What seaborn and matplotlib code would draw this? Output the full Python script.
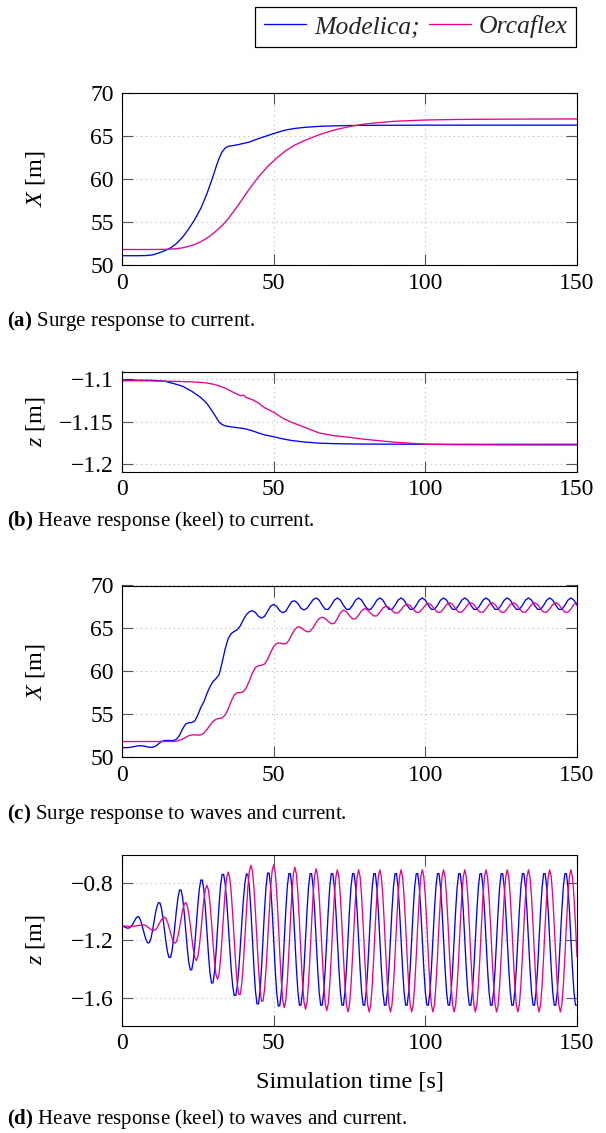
import numpy as np
import matplotlib
matplotlib.use("Agg")
import matplotlib.pyplot as plt
import seaborn as sns

# ------------------------------------------------------------------ data
series_names = ["Modelica;", "Orcaflex"]
x_ticks = [0, 50, 100, 150]

# (a) surge response to current
t_a = [0, 5, 8, 10, 12, 14, 16, 18, 20, 22, 24, 26, 28, 30, 31, 32, 33, 34, 35, 38,
       42, 45, 48, 51, 54, 57, 60, 65, 70, 75, 80, 90, 100, 110, 120, 135, 150]
surge_cur_modelica = [51.08, 51.08, 51.1, 51.17, 51.38, 51.65, 51.98, 52.5, 53.25, 54.2,
                      55.3, 56.6, 58.3, 60.3, 61.4, 62.4, 63.15, 63.6, 63.8, 63.97,
                      64.3, 64.7, 65.05, 65.4, 65.7, 65.88, 66.0, 66.12, 66.18, 66.22,
                      66.24, 66.25, 66.26, 66.26, 66.26, 66.26, 66.26]
surge_cur_orcaflex = [51.8, 51.8, 51.8, 51.8, 51.81, 51.82, 51.85, 51.9, 52.0, 52.17,
                      52.4, 52.72, 53.12, 53.65, 53.95, 54.27, 54.6, 54.98, 55.38, 56.8,
                      58.85, 60.25, 61.45, 62.45, 63.3, 63.95, 64.45, 65.15, 65.7, 66.1,
                      66.4, 66.72, 66.86, 66.92, 66.95, 66.97, 66.98]

# (b) heave response (keel) to current
t_b = [0, 2, 5, 10, 14, 17, 20, 23, 26, 28, 30, 32, 33, 34, 36, 38, 39, 40, 41, 43,
       45, 47, 50, 53, 56, 60, 65, 70, 75, 80, 90, 100, 110, 125, 150]
heave_cur_modelica = [-1.1015, -1.1003, -1.1008, -1.101, -1.102, -1.1048, -1.108, -1.114, -1.1215, -1.1285,
                      -1.139, -1.1505, -1.1535, -1.155, -1.1563, -1.1572, -1.1577, -1.1582, -1.1589, -1.161,
                      -1.1635, -1.1658, -1.168, -1.1705, -1.1725, -1.1742, -1.1756, -1.1762, -1.1765, -1.1767,
                      -1.1768, -1.1769, -1.177, -1.177, -1.177]
heave_cur_orcaflex = [-1.1015, -1.1015, -1.1015, -1.1017, -1.102, -1.1022, -1.1025, -1.1028, -1.1034, -1.1042,
                      -1.1055, -1.1075, -1.109, -1.1102, -1.114, -1.1175, -1.1192, -1.1186, -1.1215, -1.124,
                      -1.128, -1.1335, -1.139, -1.146, -1.151, -1.1565, -1.1635, -1.1668, -1.1687, -1.171,
                      -1.1745, -1.1768, -1.1775, -1.1777, -1.1778]

# (c) surge response to waves and current, samples every 1 s from 0 to 150 s
surge_wav_modelica = [
    51.09, 51.09, 51.10, 51.14, 51.22, 51.29, 51.32, 51.29, 51.21, 51.14,
    51.13, 51.25, 51.52, 51.80, 51.92, 51.93, 51.92, 51.93, 52.08, 52.55,
    53.30, 53.85, 54.00, 54.02, 54.20, 54.90, 55.80, 56.45, 57.40, 58.20,
    58.80, 59.15, 59.60, 61.00, 62.60, 63.80, 64.40, 64.65, 64.85, 65.30,
    66.00, 66.60, 66.95, 67.06, 66.85, 66.40, 66.20, 66.40, 67.00, 67.60,
    67.80, 67.55, 67.05, 66.83, 67.00, 67.60, 68.15, 68.20, 67.90, 67.35,
    67.14, 67.35, 67.85, 68.35,
    68.55, 68.29, 67.69, 67.22, 67.22, 67.69, 68.29,
    68.55, 68.29, 67.69, 67.22, 67.22, 67.69, 68.29,
    68.55, 68.29, 67.69, 67.22, 67.22, 67.69, 68.29,
    68.55, 68.29, 67.69, 67.22, 67.22, 67.69, 68.29,
    68.55, 68.29, 67.69, 67.22, 67.22, 67.69, 68.29,
    68.55, 68.29, 67.69, 67.22, 67.22, 67.69, 68.29,
    68.55, 68.29, 67.69, 67.22, 67.22, 67.69, 68.29,
    68.55, 68.29, 67.69, 67.22, 67.22, 67.69, 68.29,
    68.55, 68.29, 67.69, 67.22, 67.22, 67.69, 68.29,
    68.55, 68.29, 67.69, 67.22, 67.22, 67.69, 68.29,
    68.55, 68.29, 67.69, 67.22, 67.22, 67.69, 68.29,
    68.55, 68.29, 67.69, 67.22, 67.22, 67.69, 68.29,
    68.55, 68.29, 67.69]
surge_wav_orcaflex = [
    51.80, 51.80, 51.80, 51.80, 51.80, 51.80, 51.80, 51.80, 51.80, 51.80,
    51.80, 51.80, 51.80, 51.80, 51.80, 51.80, 51.80, 51.81, 51.85, 51.95,
    52.10, 52.30, 52.48, 52.57, 52.58, 52.55, 52.58, 52.80, 53.20, 53.70,
    54.15, 54.40, 54.50, 54.55, 54.90, 55.60, 56.50, 57.25, 57.50, 57.50,
    57.60, 58.10, 58.90, 59.80, 60.45, 60.65, 60.70, 60.85, 61.40, 62.20,
    62.90, 63.25, 63.30, 63.20, 63.20, 63.60, 64.30, 64.90, 65.20, 65.10,
    64.80, 64.60, 64.65, 65.10, 65.70, 66.15, 66.30,
    66.15, 65.81, 65.54, 65.58, 66.14, 66.83, 67.14,
    66.94, 66.48, 66.11, 66.12, 66.54, 67.07, 67.30,
    67.13, 66.75, 66.45, 66.46, 66.87, 67.37, 67.60,
    67.44, 67.08, 66.79, 66.80, 67.17, 67.63, 67.84,
    67.65, 67.22, 66.88, 66.88, 67.25, 67.71, 67.92,
    67.71, 67.25, 66.88, 66.89, 67.28, 67.78, 68.00,
    67.78, 67.28, 66.89, 66.89, 67.28, 67.78, 68.00,
    67.78, 67.28, 66.89, 66.89, 67.28, 67.78, 68.00,
    67.78, 67.28, 66.89, 66.89, 67.28, 67.78, 68.00,
    67.78, 67.28, 66.89, 66.89, 67.28, 67.78, 68.00,
    67.78, 67.28, 66.89, 66.89, 67.28, 67.78, 68.00,
    67.78, 67.28, 66.89, 66.89, 67.28, 67.78, 68.00]

# (d) heave response (keel) to waves and current, samples every 0.5 s from 0 to 150 s
heave_wav_modelica = [
    -1.100, -1.103, -1.108, -1.113, -1.115, -1.112, -1.102, -1.088, -1.068, -1.049, -1.036,
    -1.035, -1.053, -1.086, -1.127, -1.167, -1.200, -1.218,
    -1.216, -1.189, -1.139, -1.077, -1.014, -0.964, -0.937,
    -0.938, -0.976, -1.044, -1.129, -1.214, -1.282, -1.320,
    -1.319, -1.272, -1.188, -1.084, -0.979, -0.895, -0.848,
    -0.849, -0.904, -1.004, -1.128, -1.251, -1.351, -1.406,
    -1.405, -1.343, -1.231, -1.092, -0.952, -0.840, -0.778,
    -0.779, -0.850, -0.979, -1.139, -1.298, -1.427, -1.498,
    -1.497, -1.422, -1.287, -1.119, -0.950, -0.815, -0.740,
    -0.738, -0.803, -0.922, -1.077, -1.246, -1.401, -1.520, -1.585,
    -1.585, -1.520, -1.401, -1.245, -1.076, -0.920, -0.801, -0.736,
    -0.740, -0.829, -0.991, -1.192, -1.393, -1.555, -1.644,
    -1.644, -1.554, -1.391, -1.187, -0.984, -0.820, -0.730,
    -0.730, -0.822, -0.987, -1.194, -1.401, -1.566, -1.658,
    -1.658, -1.567, -1.402, -1.196, -0.990, -0.825, -0.734,
    -0.734, -0.825, -0.989, -1.194, -1.398, -1.562, -1.653, -1.653, -1.562, -1.398, -1.194, -0.989, -0.825, -0.734,
    -0.734, -0.825, -0.989, -1.194, -1.398, -1.562, -1.653, -1.653, -1.562, -1.398, -1.194, -0.989, -0.825, -0.734,
    -0.734, -0.825, -0.989, -1.194, -1.398, -1.562, -1.653, -1.653, -1.562, -1.398, -1.194, -0.989, -0.825, -0.734,
    -0.734, -0.825, -0.989, -1.194, -1.398, -1.562, -1.653, -1.653, -1.562, -1.398, -1.194, -0.989, -0.825, -0.734,
    -0.734, -0.825, -0.989, -1.194, -1.398, -1.562, -1.653, -1.653, -1.562, -1.398, -1.194, -0.989, -0.825, -0.734,
    -0.734, -0.825, -0.989, -1.194, -1.398, -1.562, -1.653, -1.653, -1.562, -1.398, -1.194, -0.989, -0.825, -0.734,
    -0.734, -0.825, -0.989, -1.194, -1.398, -1.562, -1.653, -1.653, -1.562, -1.398, -1.194, -0.989, -0.825, -0.734,
    -0.734, -0.825, -0.989, -1.194, -1.398, -1.562, -1.653, -1.653, -1.562, -1.398, -1.194, -0.989, -0.825, -0.734,
    -0.734, -0.825, -0.989, -1.194, -1.398, -1.562, -1.653, -1.653, -1.562, -1.398, -1.194, -0.989, -0.825, -0.734,
    -0.734, -0.825, -0.989, -1.194, -1.398, -1.562, -1.653, -1.653, -1.562, -1.398, -1.194, -0.989, -0.825, -0.734,
    -0.734, -0.825, -0.989, -1.194, -1.398, -1.562, -1.653, -1.653, -1.562, -1.398, -1.194, -0.989, -0.825, -0.734,
    -0.734, -0.825, -0.989, -1.194, -1.398, -1.562, -1.653, -1.653, -1.562, -1.398, -1.194, -0.989, -0.825, -0.734,
    -0.734, -0.825, -0.989, -1.194, -1.398, -1.562, -1.653, -1.653, -1.562, -1.398, -1.194, -0.989, -0.825, -0.734,
    -0.734, -0.825, -0.989, -1.194, -1.398, -1.562, -1.653, -1.653]
heave_wav_orcaflex = [
    -1.100, -1.100, -1.100, -1.101, -1.101, -1.102, -1.102, -1.102, -1.101, -1.100, -1.098, -1.096, -1.094, -1.093, -1.092,
    -1.094, -1.099, -1.107, -1.116, -1.124, -1.129, -1.131,
    -1.126, -1.114, -1.095, -1.074, -1.056, -1.043, -1.038,
    -1.047, -1.072, -1.109, -1.149, -1.186, -1.211, -1.220,
    -1.206, -1.166, -1.109, -1.046, -0.989, -0.949, -0.935,
    -0.955, -1.012, -1.093, -1.183, -1.265, -1.321, -1.341,
    -1.315, -1.242, -1.137, -1.020, -0.915, -0.842, -0.816,
    -0.849, -0.940, -1.071, -1.217, -1.348, -1.440, -1.472,
    -1.435, -1.331, -1.181, -1.014, -0.864, -0.760, -0.723,
    -0.760, -0.866, -1.022, -1.201, -1.372, -1.505, -1.579,
    -1.578, -1.501, -1.360, -1.180, -0.991, -0.827, -0.715, -0.676,
    -0.717, -0.835, -1.007, -1.206, -1.395, -1.543, -1.625,
    -1.624, -1.543, -1.394, -1.204, -1.005, -0.831, -0.713, -0.672,
    -0.721, -0.860, -1.060, -1.282, -1.482, -1.621, -1.670,
    -1.621, -1.485, -1.289, -1.070, -0.873, -0.737, -0.688,
    -0.737, -0.875, -1.074, -1.296, -1.495, -1.633, -1.682,
    -1.633, -1.497, -1.301, -1.082, -0.885, -0.749, -0.700,
    -0.749, -0.887, -1.085, -1.306, -1.504, -1.642, -1.691,
    -1.642, -1.506, -1.309, -1.089, -0.893, -0.756, -0.707,
    -0.756, -0.894, -1.093, -1.314, -1.513, -1.651, -1.700, -1.651, -1.513, -1.314, -1.093, -0.894, -0.756, -0.707,
    -0.756, -0.894, -1.093, -1.314, -1.513, -1.651, -1.700, -1.651, -1.513, -1.314, -1.093, -0.894, -0.756, -0.707,
    -0.756, -0.894, -1.093, -1.314, -1.513, -1.651, -1.700, -1.651, -1.513, -1.314, -1.093, -0.894, -0.756, -0.707,
    -0.756, -0.894, -1.093, -1.314, -1.513, -1.651, -1.700, -1.651, -1.513, -1.314, -1.093, -0.894, -0.756, -0.707,
    -0.756, -0.894, -1.093, -1.314, -1.513, -1.651, -1.700, -1.651, -1.513, -1.314, -1.093, -0.894, -0.756, -0.707,
    -0.756, -0.894, -1.093, -1.314, -1.513, -1.651, -1.700, -1.651, -1.513, -1.314, -1.093, -0.894, -0.756, -0.707,
    -0.756, -0.894, -1.093, -1.314, -1.513, -1.651, -1.700, -1.651, -1.513, -1.314, -1.093, -0.894, -0.756, -0.707,
    -0.756, -0.894, -1.093, -1.314, -1.513, -1.651, -1.700, -1.651, -1.513, -1.314, -1.093, -0.894, -0.756, -0.707,
    -0.756, -0.894, -1.093, -1.314, -1.513, -1.651, -1.700, -1.651, -1.513, -1.314, -1.093, -0.894, -0.756, -0.707,
    -0.756, -0.894, -1.093, -1.314, -1.513, -1.651, -1.700, -1.651, -1.513, -1.314, -1.093, -0.894, -0.756, -0.707,
    -0.756, -0.894, -1.093, -1.314, -1.513, -1.651, -1.700, -1.651, -1.513, -1.314, -1.093, -0.894, -0.756, -0.707,
    -0.756, -0.894, -1.093, -1.314]

t_c = np.linspace(0, 150, len(surge_wav_modelica))
t_d = np.linspace(0, 150, len(heave_wav_modelica))

y_ticks_surge = [50, 55, 60, 65, 70]
y_ticks_heave_cur = [-1.2, -1.15, -1.1]
y_ticklabels_heave_cur = ["\u22121.2", "\u22121.15", "\u22121.1"]
y_ticks_heave_wav = [-1.6, -1.2, -0.8]
y_ticklabels_heave_wav = ["\u22121.6", "\u22121.2", "\u22120.8"]

captions = ["Surge response to current.",
            "Heave response (keel) to current.",
            "Surge response to waves and current.",
            "Heave response (keel) to waves and current."]
caption_tags = ["(a)", "(b)", "(c)", "(d)"]

# ------------------------------------------------------------------ style
sns.set_theme(style="white")
plt.rcParams.update({
    "font.family": ["Liberation Serif", "DejaVu Serif"],
    "mathtext.fontset": "custom",
    "mathtext.rm": "Liberation Serif",
    "mathtext.it": "Liberation Serif:italic",
    "mathtext.bf": "Liberation Serif:bold",
    "axes.unicode_minus": True,
})

BLUE = "#0000ff"
MAGENTA = "#ec008c"
LW = 0.95

W, H = 606, 1133
fig = plt.figure(figsize=(W / 100, H / 100), dpi=100)
L, R = 122, 577


def add_ax(top, bottom):
    return fig.add_axes([L / W, 1 - bottom / H, (R - L) / W, (bottom - top) / H])


def style(ax, ylim, yticks, yticklabels, ylabel):
    ax.set_xlim(0, 150)
    ax.set_ylim(*ylim)
    ax.set_xticks(x_ticks)
    ax.set_xticklabels([str(v) for v in x_ticks])
    ax.set_yticks(yticks)
    ax.set_yticklabels(yticklabels)
    ax.set_axisbelow(True)
    ax.grid(True, color="#b8b8b8", linestyle=(0, (1, 3.2)), linewidth=0.8)
    ax.tick_params(direction="in", length=8, width=0.8, color="#555555",
                   bottom=True, left=True, top=True, right=True,
                   labelsize=17, labelcolor="black")
    ax.tick_params(axis="x", pad=5.5)
    ax.tick_params(axis="y", pad=6)
    for s in ax.spines.values():
        s.set_visible(True)
        s.set_color("black")
        s.set_linewidth(0.8)
    ax.set_xlabel("")
    ax.set_ylabel(ylabel, fontsize=17.5, color="black")
    ax.yaxis.set_label_coords(-0.164, 0.5)


def draw(ax, t, y_mod, y_orc):
    sns.lineplot(x=np.asarray(t, float), y=np.asarray(y_mod, float), ax=ax, color=BLUE,
                 linewidth=LW, label=series_names[0], legend=False)
    sns.lineplot(x=np.asarray(t, float), y=np.asarray(y_orc, float), ax=ax, color=MAGENTA,
                 linewidth=LW, label=series_names[1], legend=False)


ax_a = add_ax(93, 265)
draw(ax_a, t_a, surge_cur_modelica, surge_cur_orcaflex)
style(ax_a, (50, 70), y_ticks_surge, [str(v) for v in y_ticks_surge], r"$X$ [m]")

ax_b = add_ax(371.5, 471.7)
draw(ax_b, t_b, heave_cur_modelica, heave_cur_orcaflex)
style(ax_b, (-1.2095, -1.0905), y_ticks_heave_cur, y_ticklabels_heave_cur, r"$z$ [m]")

ax_c = add_ax(585.5, 757)
draw(ax_c, t_c, surge_wav_modelica, surge_wav_orcaflex)
style(ax_c, (50, 70), y_ticks_surge, [str(v) for v in y_ticks_surge], r"$X$ [m]")

ax_d = add_ax(854.5, 1025.5)
draw(ax_d, t_d, heave_wav_modelica, heave_wav_orcaflex)
style(ax_d, (-1.795, -0.6), y_ticks_heave_wav, y_ticklabels_heave_wav, r"$z$ [m]")
ax_d.set_xlabel("Simulation time [s]", fontsize=17.5, color="black")
ax_d.xaxis.set_label_coords(0.5, -0.268)

# captions
caption_baselines = [326, 526, 819, 1124]
for tag, cap, yb in zip(caption_tags, captions, caption_baselines):
    fig.text(7 / W, 1 - yb / H, r"$\mathbf{" + tag + "}$ " + cap,
             ha="left", va="baseline", fontsize=15, color="black")

# legend
handles, labels = ax_a.get_legend_handles_labels()
leg = fig.legend(handles, labels, loc="upper right",
                 bbox_to_anchor=(576 / W, 1 - 7 / H), ncol=2, frameon=True,
                 fancybox=False, edgecolor="black", framealpha=1,
                 prop={"family": "Liberation Serif", "style": "italic", "size": 18.5},
                 handlelength=1.65, handletextpad=0.3, columnspacing=0.35,
                 borderpad=0.33, borderaxespad=0)
leg.get_frame().set_linewidth(0.9)
for ln in leg.get_lines():
    ln.set_linewidth(LW)

fig.savefig("out.png", dpi=100)
